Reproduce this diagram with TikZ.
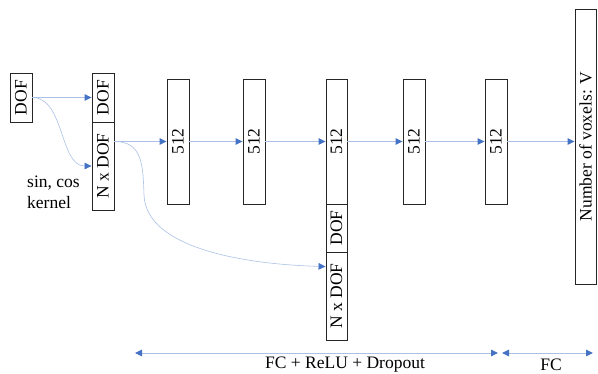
\documentclass[tikz,border=0pt]{standalone}
\usepackage{fontspec}
\setmainfont{Liberation Serif}
\usetikzlibrary{arrows.meta,calc}
\definecolor{linkblue}{RGB}{172,193,230}
\definecolor{tipblue}{RGB}{68,114,196}
\tikzset{
  layer/.style={draw=black!85, line width=0.9pt, fill=white, inner sep=0pt,
    font=\fontsize{17.5}{21}\selectfont},
  link/.style={draw=linkblue, line width=0.9pt,
    -{Triangle[length=7pt,width=6.5pt,color=tipblue]}},
  curvelink/.style={link, line width=0.6pt},
  span/.style={draw=linkblue, line width=0.9pt,
    {Triangle[length=7pt,width=6.5pt,color=tipblue]}-{Triangle[length=7pt,width=6.5pt,color=tipblue]}},
  caption/.style={inner sep=0pt, font=\fontsize{17.5}{21}\selectfont}
}
\newcommand{\vtext}[1]{\rotatebox{90}{#1}}
\begin{document}
\begin{tikzpicture}[x=1pt,y=-1pt]
\useasboundingbox (0,0) rectangle (598,374);

% input pose and its sin/cos encoding
\node[layer, minimum width=22pt, minimum height=49pt] (dof) at (21,97.5) {\vtext{DOF}};
\node[layer, minimum width=22pt, minimum height=49pt] (encdof) at (103,97.5) {\vtext{DOF}};
\node[layer, minimum width=22pt, minimum height=88pt] (encndof) at (103,166) {\vtext{N x DOF}};
\node[caption, anchor=west, align=left] (kernel) at (27,192) {sin, cos\\kernel};

% hidden layers
\node[layer, minimum width=22pt, minimum height=125pt] (fc1) at (178,141.5) {\vtext{512}};
\node[layer, minimum width=22pt, minimum height=125pt] (fc2) at (254,141.5) {\vtext{512}};
\node[layer, minimum width=21pt, minimum height=125pt] (fc3) at (336.5,141.5) {\vtext{512}};
\node[layer, minimum width=21pt, minimum height=48pt] (skipdof) at (336.5,228) {\vtext{DOF}};
\node[layer, minimum width=21pt, minimum height=88pt] (skipndof) at (336.5,296) {\vtext{N x DOF}};
\node[layer, minimum width=22pt, minimum height=125pt] (fc4) at (414,141.5) {\vtext{512}};
\node[layer, minimum width=22pt, minimum height=125pt] (fc5) at (496,141.5) {\vtext{512}};

% output layer
\node[layer, minimum width=21pt, minimum height=275pt] (out) at (585.5,146.5) {\vtext{Number of voxels: V}};

% connections
\coordinate (encout) at (encndof.east |- fc1.west);
\draw[link] (dof.east) -- (encdof.west);
\draw[curvelink] (dof.east) .. controls +(32,0) and +(-32,0) .. (encndof.west);
\draw[link] (encout) -- (fc1.west);
\draw[link] (fc1.east) -- (fc2.west);
\draw[link] (fc2.east) -- (fc3.west);
\draw[link] (fc3.east) -- (fc4.west);
\draw[link] (fc4.east) -- (fc5.west);
\draw[link] (fc5.east) -- (out.west |- fc5.east);
\draw[curvelink] (encout) .. controls +(28,0) and +(-1,-30) .. (144,195)
  .. controls +(2,55) and +(-75,-2) .. ($(skipndof.north west)+(0,15)$);

% layer-type spans
\coordinate (spanA) at (135,353);
\coordinate (spanB) at (498,353);
\coordinate (spanC) at (502,353);
\coordinate (spanD) at (593,353);
\draw[span] (spanA) -- (spanB);
\draw[span] (spanC) -- (spanD);
\node[caption] (fclabel) at (345,365) {FC + ReLU + Dropout};
\node[caption] (outlabel) at (551,365) {FC};
\end{tikzpicture}
\end{document}
